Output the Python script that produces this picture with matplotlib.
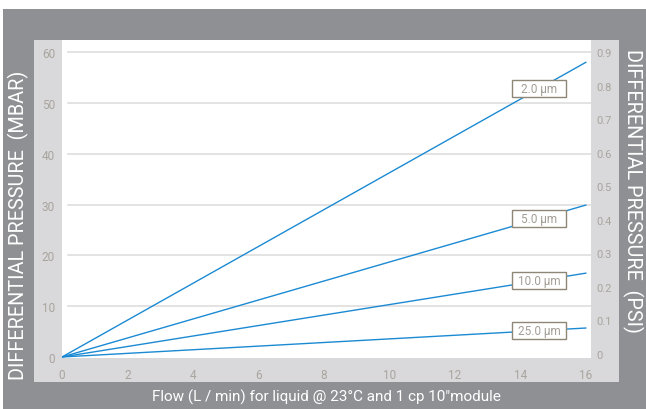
import matplotlib

matplotlib.use("Agg")
import matplotlib.pyplot as plt
from matplotlib.patches import Rectangle
import numpy as np

# Flow (L/min) and differential pressure (mbar)
FLOW = [0, 16]
SERIES = ["2.0 µm", "5.0 µm", "10.0 µm", "25.0 µm"]
PRESSURE_MBAR = {
    "2.0 µm": [0, 58.0],
    "5.0 µm": [0, 29.9],
    "10.0 µm": [0, 16.5],
    "25.0 µm": [0, 5.7],
}
X_TICKS = [0, 2, 4, 6, 8, 10, 12, 14, 16]
Y_TICKS_MBAR = [0, 10, 20, 30, 40, 50, 60]
Y_TICKS_PSI = [0, 0.1, 0.2, 0.3, 0.4, 0.5, 0.6, 0.7, 0.8, 0.9]
LABEL_X = 14.57

DARK = "#8f9094"
PANEL = "#d9d9db"
TICK = "#a9a49d"
LINE = "#1b8ad3"
BOX_EDGE = "#8e8676"
BOX_TEXT = "#a39d95"
GRID = "#dedede"
FONT = "Roboto"

W, H = 646, 410
fig = plt.figure(figsize=(W / 100, H / 100), dpi=100, facecolor="white")


def fx(px):
    return px / W


def fy(py):
    return 1 - py / H


# dark frame and light panel, on a background axes behind everything
bg = fig.add_axes([0, 0, 1, 1], zorder=-10)
bg.set_xlim(0, W)
bg.set_ylim(H, 0)
bg.axis("off")
bg.add_patch(Rectangle((3, 10), W - 3, H - 10, facecolor=DARK, edgecolor="none"))
bg.add_patch(Rectangle((34, 41), 619 - 34, 383 - 41, facecolor=PANEL, edgecolor="none"))

ax = fig.add_axes([fx(62), fy(359), fx(591 - 62), (359 - 41) / H])
ax.set_facecolor("white")
for key in SERIES:
    ax.plot(FLOW, PRESSURE_MBAR[key], color=LINE, linewidth=1.0, zorder=3)

ax.set_xlim(0, 16.16)
ax.set_ylim(-0.2, 62.4)
ax.set_xticks(X_TICKS)
ax.set_yticks(Y_TICKS_MBAR)
for y in Y_TICKS_MBAR[1:]:
    ax.axhline(y, xmin=0.012, color=GRID, linewidth=1.2, zorder=1)
for side in ax.spines:
    ax.spines[side].set_visible(False)
ax.tick_params(length=0, colors=TICK, labelsize=8.5)
ax.tick_params(axis="y", pad=5)
ax.tick_params(axis="x", pad=7)
for lab in ax.get_xticklabels() + ax.get_yticklabels():
    lab.set_fontfamily(FONT)

# fixed-size label boxes sitting on each line
box_w = 54 / (529 / 16.16)
box_h = 17 / (318 / 62.6)
for key in SERIES:
    yl = np.interp(LABEL_X, FLOW, PRESSURE_MBAR[key])
    ax.add_patch(Rectangle((LABEL_X - box_w / 2, yl - box_h / 2), box_w, box_h,
                           facecolor="white", edgecolor=BOX_EDGE, linewidth=1.0,
                           zorder=4))
    ax.text(LABEL_X, yl, key, ha="center", va="center", fontsize=8.5,
            color=BOX_TEXT, family=FONT, zorder=5)

ax2 = ax.twinx()
ax2.set_ylim(-0.0119, 0.937)
ax2.set_yticks(Y_TICKS_PSI, [f"{v:g}" for v in Y_TICKS_PSI])
for side in ax2.spines:
    ax2.spines[side].set_visible(False)
ax2.tick_params(length=0, colors=TICK, labelsize=8, pad=4)
for lab in ax2.get_yticklabels():
    lab.set_fontfamily(FONT)

fig.text(fx(18.5), fy(225), "DIFFERENTIAL PRESSURE  (MBAR)", rotation=90,
         ha="center", va="center", color="white", fontsize=14.3, family=FONT)
fig.text(fx(633), fy(191), "DIFFERENTIAL PRESSURE  (PSI)", rotation=-90,
         ha="center", va="center", color="white", fontsize=14.3, family=FONT)
fig.text(fx(326), fy(397), "Flow (L / min) for liquid @ 23°C and 1 cp 10\u2033module",
         ha="center", va="center", color="white", fontsize=11, family=FONT)

fig.savefig("out.png", dpi=100, facecolor="white")
